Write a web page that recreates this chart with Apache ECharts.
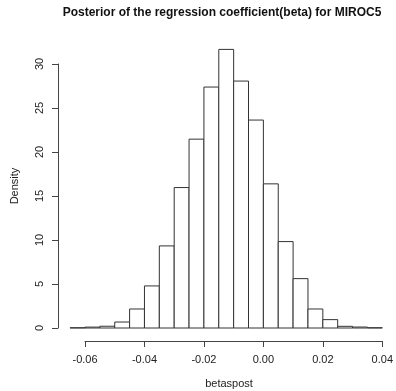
<!DOCTYPE html>
<html>
<head>
<meta charset="utf-8">
<script src="https://cdn.jsdelivr.net/npm/echarts@6/dist/echarts.min.js"></script>
<style>html,body{margin:0;padding:0;background:#fff}#c{width:396px;height:391px}</style>
</head>
<body>
<div id="c"></div>
<script>
// Histogram bin edges (width 0.005) and densities
var breaks = [-0.065, -0.06, -0.055, -0.05, -0.045, -0.04, -0.035, -0.03, -0.025, -0.02, -0.015,
              -0.01, -0.005, 0.0, 0.005, 0.01, 0.015, 0.02, 0.025, 0.03, 0.035, 0.04];
var density = [0.03, 0.1, 0.2, 0.68, 2.16, 4.78, 9.33, 15.96, 21.46, 27.38, 31.66,
               28.06, 23.63, 16.38, 9.82, 5.61, 2.16, 0.95, 0.19, 0.11, 0.03];
var xTicks = [-0.06, -0.04, -0.02, 0.00, 0.02, 0.04];
var yTicks = [0, 5, 10, 15, 20, 25, 30];
var titleText = 'Posterior of the regression coefficient(beta) for MIROC5';
var xName = 'betaspost';
var yName = 'Density';

var bins = density.map(function (d, i) { return [breaks[i], breaks[i + 1], d]; });
var FONT = 'Liberation Sans, Arial, Helvetica, sans-serif';
var chart = echarts.init(document.getElementById('c'), null, {renderer: 'canvas'});
chart.setOption({
  animation: false,
  backgroundColor: '#fff',
  grid: {left: 85, right: 11, top: 64, bottom: 63, containLabel: false},
  xAxis: {
    type: 'value', min: xTicks[0], max: xTicks[xTicks.length - 1], interval: 0.02,
    offset: 13,
    axisLine: {show: true, onZero: false, lineStyle: {color: '#444', width: 1}},
    axisTick: {show: true, length: 6, lineStyle: {color: '#444'}},
    splitLine: {show: false},
    axisLabel: {color: '#222', fontSize: 11, fontFamily: FONT, margin: 13,
      formatter: function (v) { return v.toFixed(2); }}
  },
  yAxis: {
    type: 'value', min: yTicks[0], max: yTicks[yTicks.length - 1], interval: 5,
    offset: 27,
    axisLine: {show: true, onZero: false, lineStyle: {color: '#444', width: 1}},
    axisTick: {show: true, length: 6, lineStyle: {color: '#444'}},
    splitLine: {show: false},
    axisLabel: {color: '#222', fontSize: 11, fontFamily: FONT, margin: 13, rotate: 90}
  },
  graphic: [
    {type: 'text', x: 222, y: 13,
      style: {text: titleText, font: 'bold 12px ' + FONT, fill: '#111', align: 'center', verticalAlign: 'middle'}},
    {type: 'text', x: 229, y: 384,
      style: {text: xName, font: '11px ' + FONT, fill: '#222', align: 'center', verticalAlign: 'middle'}},
    {type: 'text', x: 15, y: 186, rotation: Math.PI / 2,
      style: {text: yName, font: '11px ' + FONT, fill: '#222', align: 'center', verticalAlign: 'middle'}}
  ],
  series: [{
    type: 'custom',
    clip: false,
    data: bins,
    encode: {x: [0, 1], y: 2},
    renderItem: function (params, api) {
      var p0 = api.coord([api.value(0), 0]);
      var p1 = api.coord([api.value(1), api.value(2)]);
      return {
        type: 'rect',
        shape: {x: p0[0], y: p1[1], width: p1[0] - p0[0], height: p0[1] - p1[1]},
        style: {fill: '#fff', stroke: '#333', lineWidth: 1}
      };
    }
  }]
});
</script>
</body>
</html>
